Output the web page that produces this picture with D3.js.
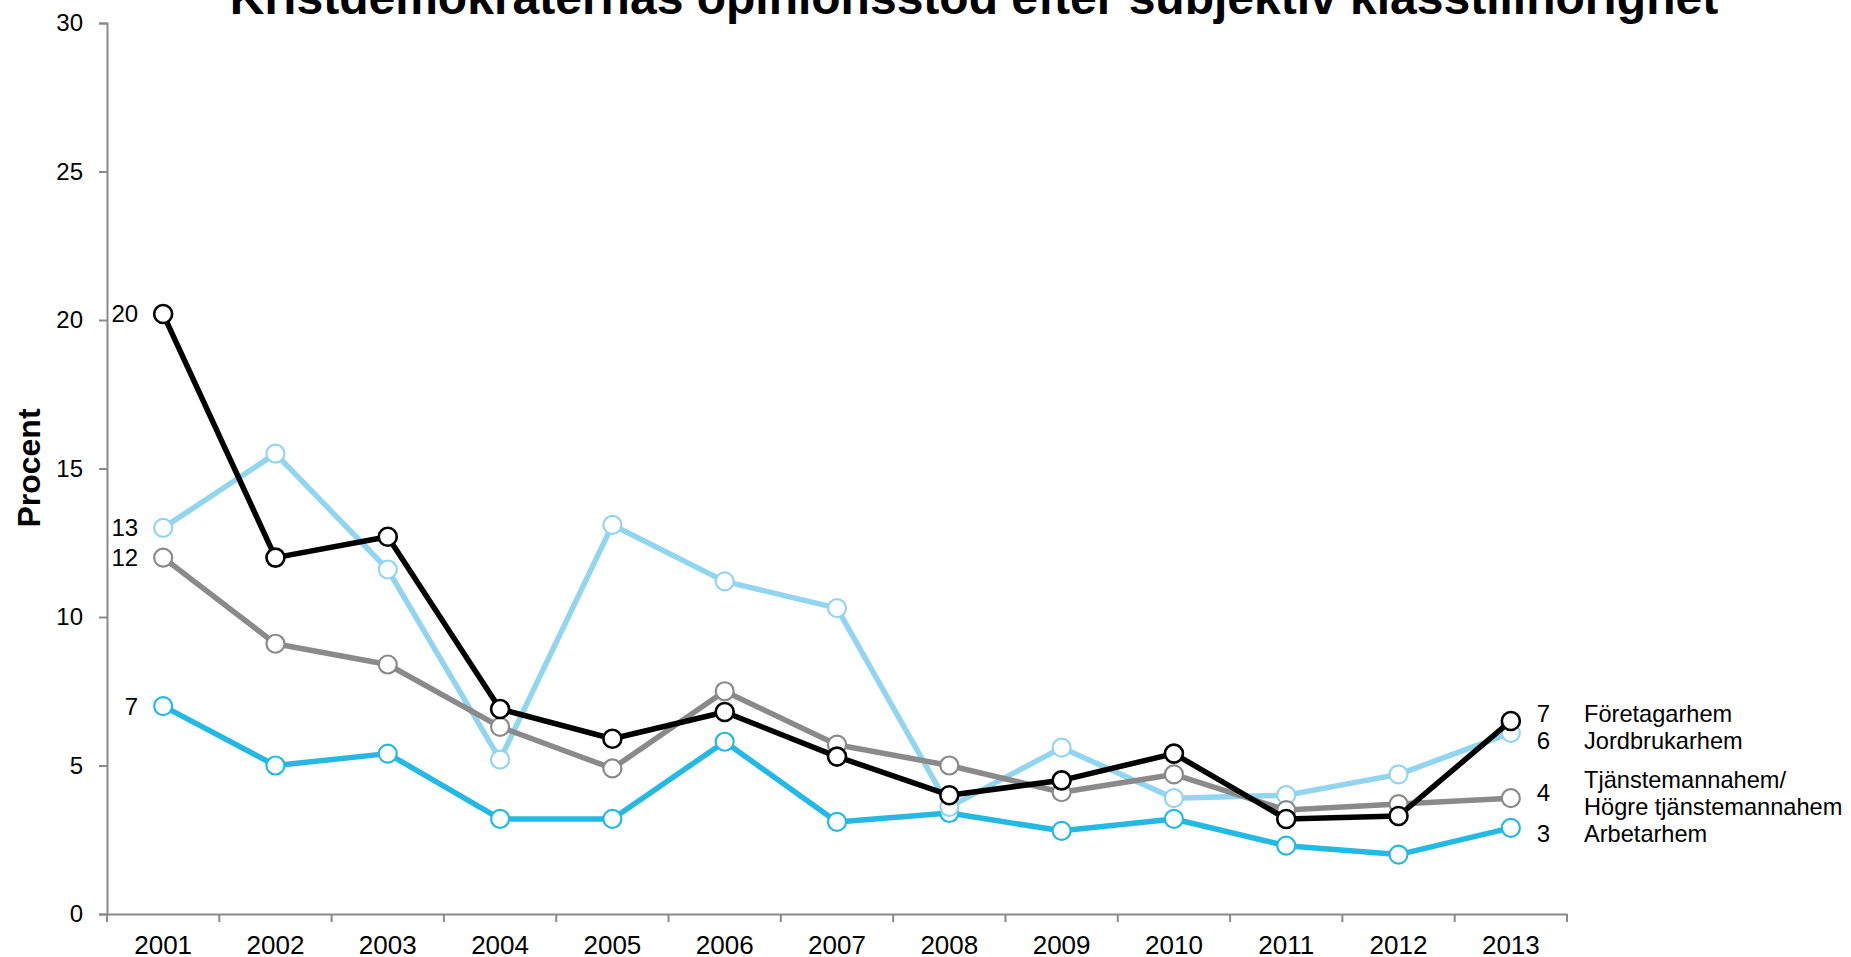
<!DOCTYPE html>
<html>
<head>
<meta charset="utf-8">
<script src="https://cdn.jsdelivr.net/npm/d3@7"></script>
<style>
	body { margin: 0; background: #fff; }
	text { font-family: Arial, "Liberation Sans", sans-serif; }
</style>
</head>
<body>
<svg></svg>
<script>
// Data
const years = ['2001', '2002', '2003', '2004', '2005', '2006', '2007', '2008', '2009', '2010', '2011', '2012', '2013'];
const foretagarhem = [20.2, 12.0, 12.7, 6.9, 5.9, 6.8, 5.3, 4.0, 4.5, 5.4, 3.2, 3.3, 6.5];
const jordbrukarhem = [13.0, 15.5, 11.6, 5.2, 13.1, 11.2, 10.3, 3.6, 5.6, 3.9, 4.0, 4.7, 6.1];
const tjanstemannahem = [12.0, 9.1, 8.4, 6.3, 4.9, 7.5, 5.7, 5.0, 4.1, 4.7, 3.5, 3.7, 3.9];
const arbetarhem = [7.0, 5.0, 5.4, 3.2, 3.2, 5.8, 3.1, 3.4, 2.8, 3.2, 2.3, 2.0, 2.9];
const yTicks = [0, 5, 10, 15, 20, 25, 30];

const title = 'Kristdemokraternas opinionsstöd efter subjektiv klasstillhörighet';
const yTitle = 'Procent';

// drawn bottom to top
const series = [
	{name: ['Arbetarhem'], values: arbetarhem, color: '#23b9e3', width: 2.2},
	{name: ['Jordbrukarhem'], values: jordbrukarhem, color: '#92d5ee', width: 2.2},
	{name: ['Tjänstemannahem/', 'Högre tjänstemannahem'], values: tjanstemannahem, color: '#8a8a8a', width: 2.2},
	{name: ['Företagarhem'], values: foretagarhem, color: '#000000', width: 2.6}
];

const svgWidth = 1851;
const svgHeight = 957;
const margins = {top: 23, right: 284, bottom: 43, left: 107};
const axisColor = '#8a8a8a';
const lineHeight = 27;

const scaleX = d3.scaleBand()
	.domain(years)
	.range([margins.left, svgWidth - margins.right]);

const scaleY = d3.scaleLinear()
	.domain([0, 30])
	.range([svgHeight - margins.bottom, margins.top]);

const px = year => scaleX(year) + scaleX.bandwidth() / 2;

const chart = d3.select('svg')
	.attr('width', svgWidth)
	.attr('height', svgHeight);

// Title
chart.append('text')
	.attr('x', 974)
	.attr('y', 14)
	.attr('text-anchor', 'middle')
	.attr('font-size', 48)
	.attr('font-weight', 'bold')
	.text(title);

// Add y-axis
chart.append('g')
	.attr('transform', `translate(${margins.left}, 0)`)
	.call(d3.axisLeft(scaleY)
		.tickValues(yTicks)
		.tickSize(8)
		.tickPadding(16))
	.call(g => g.attr('font-family', null).attr('font-size', 24))
	.call(g => g.selectAll('line, path').attr('stroke', axisColor).attr('stroke-width', 2))
	.call(g => g.selectAll('text').attr('fill', '#000'));

chart.append('text')
	.attr('transform', 'translate(29, 468) rotate(-90)')
	.attr('text-anchor', 'middle')
	.attr('dy', '0.35em')
	.attr('font-size', 32)
	.attr('font-weight', 'bold')
	.text(yTitle);

// Add x-axis
const xAxis = chart.append('g')
	.attr('transform', `translate(0, ${scaleY(0)})`);

xAxis.call(d3.axisBottom(scaleX)
		.tickSize(0)
		.tickPadding(22))
	.call(g => g.attr('font-family', null).attr('font-size', 26))
	.call(g => g.select('.domain').attr('stroke', axisColor).attr('stroke-width', 2))
	.call(g => g.selectAll('text').attr('fill', '#000'));

// ticks sit on the band edges
const edges = years.map(d => scaleX(d)).concat([scaleX.range()[1]]);
xAxis.selectAll('.edge')
	.data(edges)
	.join('line')
	.attr('class', 'edge')
	.attr('x1', d => d)
	.attr('x2', d => d)
	.attr('y1', 0)
	.attr('y2', 8)
	.attr('stroke', axisColor)
	.attr('stroke-width', 2);

// Add lines and markers
const line = d3.line()
	.x((d, i) => px(years[i]))
	.y(d => scaleY(d));

series.forEach(s => {
	const g = chart.append('g');
	g.append('path')
		.datum(s.values)
		.attr('fill', 'none')
		.attr('stroke', s.color)
		.attr('stroke-width', 5.5)
		.attr('stroke-linejoin', 'round')
		.attr('d', line);

	g.selectAll('circle')
		.data(s.values)
		.join('circle')
		.attr('cx', (d, i) => px(years[i]))
		.attr('cy', d => scaleY(d))
		.attr('r', 9)
		.attr('fill', '#fff')
		.attr('stroke', s.color)
		.attr('stroke-width', s.width);
});

// Spread labels so they do not overlap
const spread = items => {
	const sorted = items.slice().sort((a, b) => a.c - b.c);
	for (let k = 0; k < 50; k++) {
		for (let i = 1; i < sorted.length; i++) {
			const a = sorted[i - 1], b = sorted[i];
			const gap = (a.h + b.h) / 2;
			const over = a.c + gap - b.c;
			if (over > 0) {
				a.c -= over / 2;
				b.c += over / 2;
			}
		}
	}
	return items;
};

// Left value labels
const first = spread(series.map(s => ({
	s: s,
	c: scaleY(s.values[0]),
	h: lineHeight
})));

chart.append('g')
	.selectAll('text')
	.data(first)
	.join('text')
	.attr('x', px(years[0]) - 25)
	.attr('y', d => d.c)
	.attr('dy', '0.35em')
	.attr('text-anchor', 'end')
	.attr('font-size', 24)
	.text(d => Math.round(d.s.values[0]));

// Right value labels and names
const last = spread(series.map(s => ({
	s: s,
	c: scaleY(s.values[s.values.length - 1]),
	h: lineHeight * s.name.length
})));

const lastX = px(years[years.length - 1]);

chart.append('g')
	.selectAll('text')
	.data(last)
	.join('text')
	.attr('x', lastX + 26)
	.attr('y', d => d.c)
	.attr('dy', '0.35em')
	.attr('font-size', 24)
	.text(d => Math.round(d.s.values[d.s.values.length - 1]));

chart.append('g')
	.selectAll('text')
	.data(last)
	.join('text')
	.attr('font-size', 23.6)
	.selectAll('tspan')
	.data(d => d.s.name.map((n, j) => ({n: n, y: d.c + (j - (d.s.name.length - 1) / 2) * lineHeight})))
	.join('tspan')
	.attr('x', 1584)
	.attr('y', d => d.y)
	.attr('dy', '0.35em')
	.text(d => d.n);
</script>
</body>
</html>
